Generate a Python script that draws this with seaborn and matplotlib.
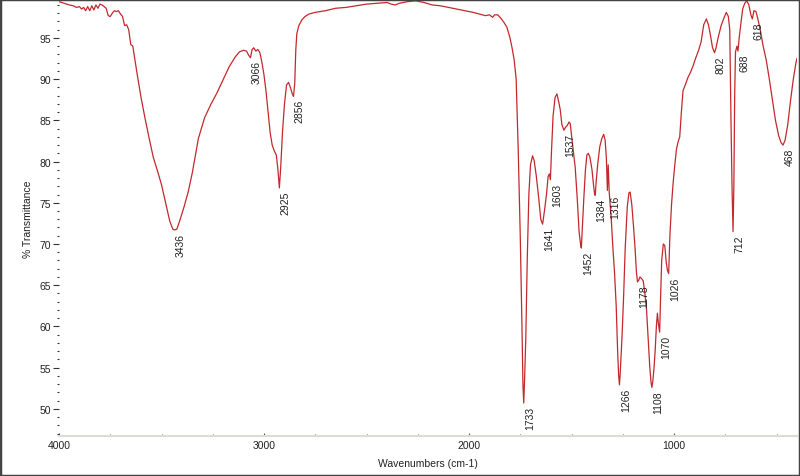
import matplotlib
matplotlib.use("Agg")
import matplotlib.pyplot as plt
from matplotlib.patches import Rectangle
from matplotlib.ticker import MultipleLocator
import numpy as np
import seaborn as sns

# spettro IR (numero d'onda cm-1, % trasmittanza)
wavenumber = [
    4000, 3975, 3950, 3930, 3915, 3900, 3890, 3880, 3870, 3860,
    3850, 3840, 3830, 3820, 3810, 3800, 3790, 3780, 3770, 3760,
    3750, 3740, 3730, 3720, 3710, 3700, 3690, 3680, 3670, 3660,
    3650, 3640, 3620, 3600, 3580, 3560, 3540, 3520, 3500, 3480,
    3460, 3445, 3436, 3425, 3410, 3390, 3370, 3350, 3320, 3290,
    3260, 3230, 3200, 3170, 3140, 3120, 3100, 3085, 3075, 3066,
    3058, 3050, 3040, 3030, 3020, 3010, 3000, 2990, 2980, 2970,
    2960, 2950, 2940, 2932, 2925, 2918, 2910, 2900, 2890, 2880,
    2870, 2862, 2856, 2850, 2845, 2840, 2830, 2815, 2800, 2780,
    2750, 2700, 2650, 2600, 2550, 2500, 2450, 2400, 2380, 2360,
    2340, 2300, 2260, 2220, 2180, 2140, 2100, 2060, 2020, 1980,
    1950, 1920, 1900, 1885, 1875, 1860, 1845, 1830, 1815, 1800,
    1790, 1780, 1770, 1760, 1750, 1742, 1737, 1733, 1729, 1723,
    1716, 1708, 1700, 1690, 1682, 1672, 1660, 1650, 1641, 1632,
    1622, 1614, 1608, 1603, 1598, 1590, 1580, 1571, 1562, 1555,
    1547, 1537, 1528, 1520, 1512, 1506, 1500, 1492, 1482, 1472,
    1463, 1456, 1452, 1448, 1440, 1432, 1425, 1418, 1410, 1400,
    1392, 1387, 1384, 1380, 1372, 1362, 1352, 1343, 1336, 1330,
    1325, 1321, 1316, 1306, 1298, 1290, 1282, 1275, 1270, 1266,
    1262, 1254, 1246, 1238, 1228, 1220, 1214, 1206, 1198, 1190,
    1183, 1178, 1172, 1166, 1158, 1150, 1142, 1134, 1126, 1118,
    1112, 1108, 1104, 1098, 1092, 1086, 1081, 1076, 1070, 1066,
    1060, 1052, 1045, 1038, 1032, 1026, 1020, 1012, 1004, 996,
    988, 980, 972, 964, 956, 945, 932, 920, 907, 895,
    880, 868, 855, 842, 832, 822, 812, 802, 795, 785,
    770, 755, 745, 735, 728, 722, 717, 712, 708, 704,
    700, 693, 688, 682, 675, 665, 655, 645, 635, 625,
    618, 610, 600, 590, 578, 565, 550, 535, 520, 505,
    490, 478, 468, 458, 445, 432, 418, 405, 400,
]
transmittance = [
    99.4, 99.2, 99.0, 98.9, 98.7, 98.8, 98.5, 98.7, 98.3, 98.8,
    98.3, 98.9, 98.4, 99.0, 98.6, 99.1, 99.0, 98.8, 98.6, 97.7,
    97.6, 98.0, 98.3, 98.2, 98.3, 97.9, 97.6, 96.5, 96.6, 96.0,
    94.2, 94.0, 90.8, 87.8, 85.2, 82.8, 80.5, 78.9, 77.2, 75.0,
    72.8, 71.8, 71.7, 71.8, 72.9, 74.5, 76.3, 78.6, 82.8, 85.3,
    86.9, 88.3, 89.9, 91.5, 92.7, 93.3, 93.5, 93.4, 92.9, 92.6,
    93.6, 93.8, 93.4, 93.6, 93.2, 92.0, 90.5, 88.5, 86.0, 83.5,
    82.0, 81.3, 80.8, 79.0, 76.8, 79.5, 83.5, 87.0, 89.3, 89.6,
    88.9, 88.2, 87.9, 89.5, 93.5, 95.5, 96.5, 97.2, 97.6, 97.9,
    98.1, 98.3, 98.6, 98.7, 98.9, 99.1, 99.2, 99.3, 99.1, 99.0,
    99.2, 99.4, 99.5, 99.3, 99.0, 98.9, 98.7, 98.5, 98.3, 98.1,
    97.9, 97.7, 97.8, 97.5, 97.8, 97.8, 97.4, 96.9, 96.3, 95.0,
    93.8, 92.4, 90.0, 81.5, 71.0, 60.5, 53.0, 50.7, 53.5, 58.5,
    68.0, 76.0, 79.6, 80.7, 80.1, 78.3, 75.6, 73.0, 72.4, 74.0,
    76.0, 78.2, 78.5, 77.8, 81.0, 85.5, 87.8, 88.2, 87.2, 86.3,
    84.5, 83.8, 84.2, 84.4, 84.8, 84.6, 83.2, 81.5, 79.3, 75.5,
    71.5, 70.0, 69.5, 71.5, 75.5, 79.0, 80.8, 81.0, 80.5, 79.0,
    77.0, 76.0, 75.9, 77.5, 79.7, 81.8, 82.8, 83.3, 82.6, 80.5,
    76.5, 79.6, 76.3, 73.0, 69.5, 66.5, 62.5, 57.0, 54.0, 52.9,
    54.5, 58.5, 63.5, 69.5, 74.5, 76.2, 76.3, 74.8, 72.3, 69.5,
    66.5, 65.4, 65.6, 66.0, 65.8, 65.5, 64.0, 62.0, 58.5, 55.0,
    53.2, 52.6, 53.2, 54.8, 57.0, 60.0, 61.6, 60.3, 59.3, 63.0,
    68.0, 70.0, 69.8, 67.8, 66.8, 66.4, 71.0, 74.8, 77.5, 79.6,
    81.5, 82.4, 83.0, 86.0, 88.6, 89.3, 90.2, 90.8, 91.6, 92.5,
    93.5, 94.5, 96.6, 97.3, 96.6, 95.3, 93.8, 93.2, 93.8, 95.0,
    96.5, 97.5, 98.1, 97.6, 96.0, 85.0, 77.0, 71.5, 77.0, 88.0,
    93.3, 94.0, 93.4, 95.0, 96.5, 98.5, 99.2, 99.5, 99.0, 97.8,
    97.3, 98.3, 98.2, 97.2, 95.8, 94.0, 92.3, 90.0, 87.5, 85.0,
    83.2, 82.3, 82.0, 82.6, 84.5, 87.3, 90.0, 92.0, 92.5,
]

# picchi etichettati
peak_labels = [3436, 3066, 2925, 2856, 1733, 1641, 1603, 1537, 1452, 1384,
               1316, 1266, 1178, 1108, 1070, 1026, 802, 712, 688, 618, 468]

sns.set_theme(style="white")
plt.rcParams['font.family'] = ['Liberation Sans', 'DejaVu Sans']

fig = plt.figure(figsize=(8, 4.77), dpi=100)
ax = fig.add_axes([59 / 800, 40 / 477, 738 / 800, 436 / 477])

sns.lineplot(x=wavenumber, y=transmittance, ax=ax, sort=False,
             color="#c3282c", linewidth=0.9, estimator=None)

ax.set_xlim(4000, 400)
ax.set_ylim(46.7, 99.6)

ax.xaxis.set_major_locator(MultipleLocator(1000))
ax.xaxis.set_minor_locator(MultipleLocator(250))
ax.yaxis.set_major_locator(MultipleLocator(5))
ax.yaxis.set_minor_locator(MultipleLocator(1))
ax.set_yticks([50, 55, 60, 65, 70, 75, 80, 85, 90, 95])

ax.tick_params(axis='y', which='major', direction='out', length=4, width=0.8,
               color="#333333", labelsize=7.5, labelcolor="#222222", pad=2,
               left=True)
ax.tick_params(axis='y', which='minor', direction='out', length=1.5, width=0.8,
               color="#333333", left=True)
ax.tick_params(axis='x', which='major', direction='in', length=2.5, width=0.8,
               color="#555555", labelsize=7.5, labelcolor="#222222", pad=3,
               bottom=True)
ax.tick_params(axis='x', which='minor', direction='in', length=1.5, width=0.8,
               color="#555555", bottom=True)

for side in ["top", "right", "left"]:
    ax.spines[side].set_visible(False)
ax.spines["bottom"].set_color("#dcdcd2")
ax.spines["bottom"].set_linewidth(1.5)

ax.set_xlabel("Wavenumbers (cm-1)", fontsize=7.5, color="#222222", labelpad=6)
ax.set_ylabel("% Transmittance", fontsize=7.5, color="#222222", labelpad=4)

wn_inc = wavenumber[::-1]
t_inc = transmittance[::-1]
for p in peak_labels:
    y = np.interp(p, wn_inc, t_inc)
    ax.annotate(str(p), xy=(p, y), xytext=(1, -2), textcoords="offset points",
                rotation=90, ha="left", va="top", fontsize=7.5,
                color="#222222")

# cornice esterna della figura
fig.patches.append(Rectangle((0, 0), 1, 1, transform=fig.transFigure,
                             fill=False, edgecolor="#444444", linewidth=2.5))

fig.savefig("out.png", dpi=100)
plt.close(fig)
